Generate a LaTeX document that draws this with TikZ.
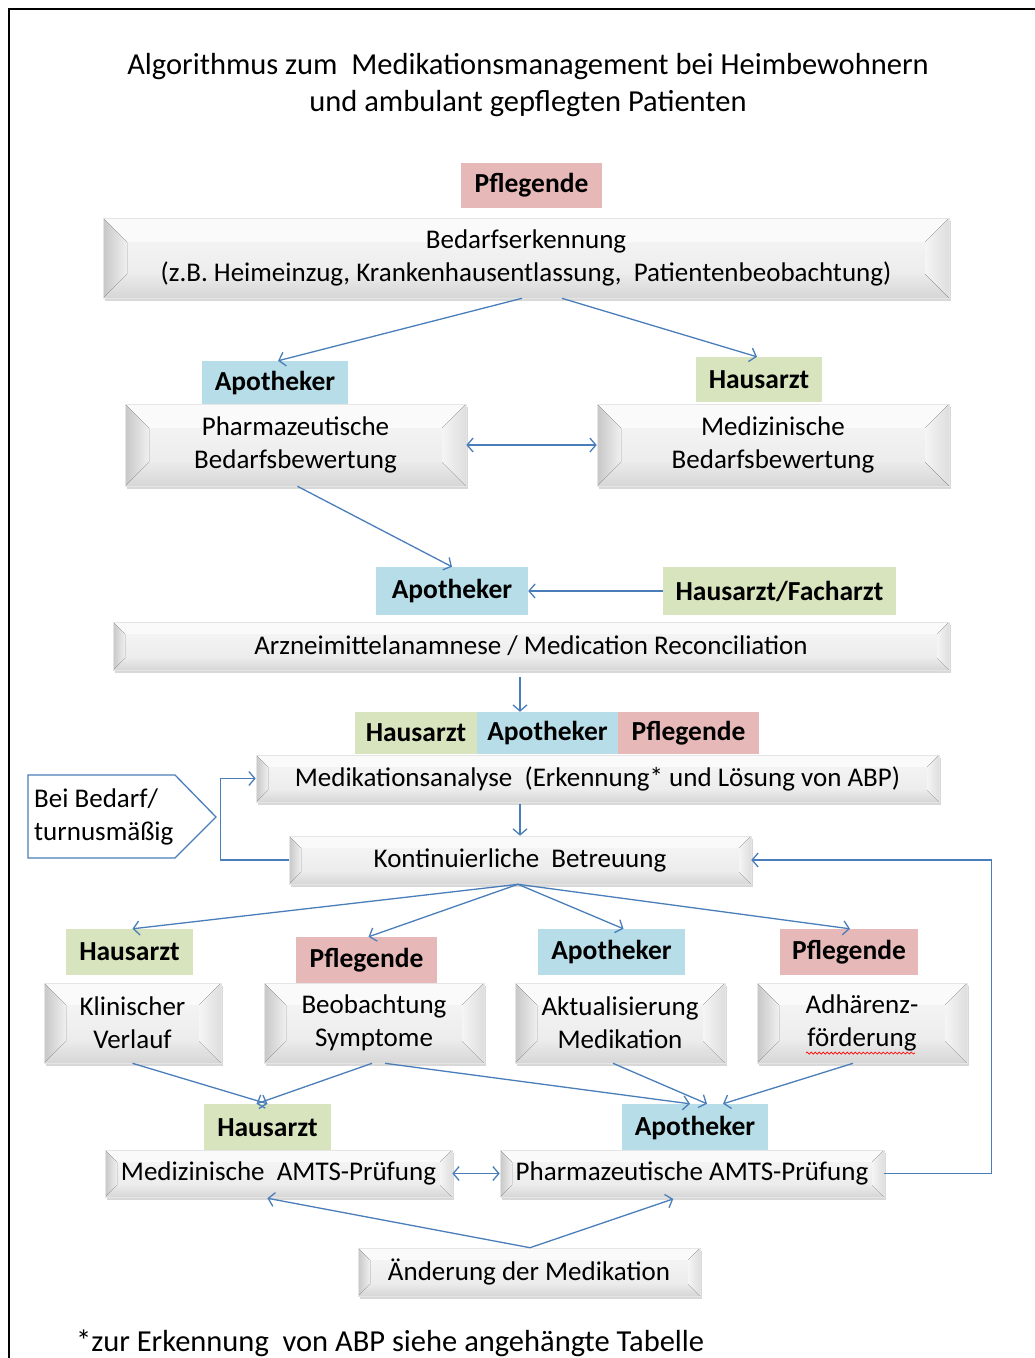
\documentclass[tikz,border=0pt]{standalone}
\usepackage{fontspec}
\setmainfont{Carlito}
\usetikzlibrary{calc,shadows,arrows.meta,decorations.pathmorphing}
\definecolor{arr}{HTML}{4A7EBB}
\definecolor{pinkc}{HTML}{E6B9B8}
\definecolor{bluec}{HTML}{B7DDE8}
\definecolor{greenc}{HTML}{D7E4BD}
\begin{document}
\begin{tikzpicture}[x=1pt,y=-1pt,
  lab/.style={inner sep=0pt, font=\bfseries\fontsize{27.5}{30}\selectfont},
  pk/.style={lab, fill=pinkc}, bl/.style={lab, fill=bluec}, gr/.style={lab, fill=greenc},
  bev/.style={inner sep=0pt, align=center, font=\fontsize{27}{33}\selectfont,
    draw=black!10, line width=0.6pt,
    drop shadow={opacity=0.3, shadow xshift=2pt, shadow yshift=-3pt},
    path picture={
      \def\bi{#1}
      \coordinate (pA) at (path picture bounding box.north west);
      \coordinate (pB) at (path picture bounding box.north east);
      \coordinate (pC) at (path picture bounding box.south east);
      \coordinate (pD) at (path picture bounding box.south west);
      \coordinate (ia) at ($(pA)+(\bi pt,-\bi pt)$);
      \coordinate (ib) at ($(pB)+(-\bi pt,-\bi pt)$);
      \coordinate (ic) at ($(pC)+(-\bi pt,\bi pt)$);
      \coordinate (id) at ($(pD)+(\bi pt,\bi pt)$);
      \fill[top color=black!3, bottom color=black!9] (pA) rectangle (pC);
      \fill[black!2] (pA)--(pB)--(ib)--(ia)--cycle;
      \fill[top color=black!8, bottom color=black!16] (pD)--(id)--(ic)--(pC)--cycle;
      \fill[left color=black!22, right color=black!6] (pA)--(ia)--(id)--(pD)--cycle;
      \fill[left color=black!4, right color=black!13] (pB)--(ib)--(ic)--(pC)--cycle;
    }},
  con/.style={draw=arr, line width=1.3pt, -{Straight Barb[length=6pt,width=14pt]}},
  dcon/.style={draw=arr, line width=1.3pt, {Straight Barb[length=6pt,width=14pt]}-{Straight Barb[length=6pt,width=14pt]}}
]
\useasboundingbox (0,0) rectangle (1034,1358);
\fill[white] (0,0) rectangle (1034,1358);
\draw[black, line width=2pt] (9,1360) -- (9,9) -- (1036,9);

% title
\node[font=\fontsize{30.5}{37}\selectfont, align=center] (title) at (528,85)
  {Algorithmus zum\ \ Medikationsmanagement bei Heimbewohnern\\und ambulant gepflegten Patienten};

% top
\node[pk, minimum width=141pt, minimum height=45pt] (pf0) at (531.5,185.5) {Pflegende};
\node[bev=24, minimum width=846pt, minimum height=80pt] (bed) at (526,258)
  {Bedarfserkennung\\(z.B. Heimeinzug, Krankenhausentlassung,\ \ Patientenbeobachtung)};

\node[bl, minimum width=146pt, minimum height=44pt] (apo1) at (275,383) {Apotheker};
\node[gr, minimum width=126pt, minimum height=45pt] (hau1) at (759,379.5) {Hausarzt};
\node[bev=24, minimum width=341pt, minimum height=82pt] (pha1) at (295.5,445) {Pharmazeutische\\Bedarfsbewertung};
\node[bev=24, minimum width=352pt, minimum height=82pt] (med1) at (773,445) {Medizinische\\Bedarfsbewertung};

\node[bl, minimum width=152pt, minimum height=48pt] (apo2) at (452,591) {Apotheker};
\node[gr, minimum width=233pt, minimum height=48pt] (hf) at (779.5,591) {Hausarzt/Facharzt};
\node[bev=12, minimum width=836pt, minimum height=48pt] (arz) at (531,646) {Arzneimittelanamnese / Medication Reconciliation};

\node[gr, minimum width=122pt, minimum height=42pt] (ha3) at (416,733) {Hausarzt};
\node[bl, minimum width=141pt, minimum height=42pt] (ap3) at (547.5,733) {Apotheker};
\node[pk, minimum width=141pt, minimum height=42pt] (pf3) at (688.5,733) {Pflegende};
\node[bev=12, minimum width=683pt, minimum height=47pt] (mana) at (597.5,778.5) {Medikationsanalyse\ \ (Erkennung* und Lösung von ABP)};
\node[bev=12, minimum width=462pt, minimum height=48pt] (kont) at (520,860) {Kontinuierliche\ \ Betreuung};

\draw[draw=arr, line width=1.3pt] (28,775) -- (175,775) -- (216,817) -- (175,858) -- (28,858) -- cycle;
\node[anchor=west, align=left, inner sep=0pt, font=\fontsize{27}{33}\selectfont] (bb) at (34,817) {Bei Bedarf/\\turnusmäßig};

% bottom rows
\node[gr, minimum width=127pt, minimum height=46pt] (hau4) at (129.5,952) {Hausarzt};
\node[pk, minimum width=141pt, minimum height=46pt] (pf4) at (366.5,960) {Pflegende};
\node[bl, minimum width=147pt, minimum height=46pt] (ap4) at (611.5,952) {Apotheker};
\node[pk, minimum width=138pt, minimum height=46pt] (pf5) at (849,952) {Pflegende};

\node[bev=22, minimum width=177pt, minimum height=80pt] (kv) at (132.5,1023) {Klinischer\\Verlauf};
\node[bev=22, minimum width=220pt, minimum height=80pt] (bs) at (374,1023) {Beobachtung\\Symptome};
\node[bev=22, minimum width=210pt, minimum height=80pt] (am) at (620,1023) {Aktualisierung\\Medikation};
\node[bev=22, minimum width=210pt, minimum height=80pt] (ad) at (862,1023) {Adhärenz-\\förderung};
\draw[red, line width=0.7pt, decorate, decoration={snake, amplitude=1pt, segment length=4pt}] (806,1053) -- (915,1053);

\node[gr, minimum width=127pt, minimum height=47pt] (hau6) at (267.5,1127.5) {Hausarzt};
\node[bl, minimum width=146pt, minimum height=47pt] (ap6) at (695,1127.5) {Apotheker};
\node[bev=12, minimum width=347pt, minimum height=47pt] (mamts) at (278.5,1173.5) {Medizinische\ \ AMTS-Prüfung};
\node[bev=12, minimum width=384pt, minimum height=47pt] (pamts) at (692,1173.5) {Pharmazeutische AMTS-Prüfung};

\node[bev=12, minimum width=342pt, minimum height=48pt] (aen) at (529,1272) {Änderung der Medikation};

\node[anchor=west, inner sep=0pt, font=\fontsize{30.5}{33}\selectfont] (foot) at (76,1343) {*zur Erkennung\ \ von ABP siehe angehängte Tabelle};

% connectors
\draw[con] ([xshift=-4pt]bed.south) -- ([xshift=3pt]apo1.north);
\draw[con] ([xshift=36pt]bed.south) -- ([xshift=-2pt]hau1.north);
\draw[dcon] (pha1.east) -- (med1.west);
\draw[con] ([xshift=2pt]pha1.south) -- (apo2.north);
\draw[con] (hf.west) -- (apo2.east);
\draw[con, shorten <=7pt] ([xshift=-11pt]arz.south) -- ([xshift=-27.5pt]ap3.north);
\draw[con, shorten <=2pt] (kont.north |- mana.south) -- (kont.north);
\draw[con] (kont.west) -- ++(-68,0) |- (mana.west);
\draw[con] (pamts.east) -- ++(107,0) |- (kont.east);

\draw[con] ([xshift=-2pt]kont.south) -- ([xshift=3pt]hau4.north);
\draw[con] ([xshift=-2pt]kont.south) -- ([xshift=2pt]pf4.north);
\draw[con] ([xshift=-2pt]kont.south) -- ([xshift=12pt]ap4.north);
\draw[con] ([xshift=-2pt]kont.south) -- ([xshift=1pt]pf5.north);

\draw[con] (kv.south) -- (hau6.north);
\draw[con] ([xshift=-2pt]bs.south) -- ([xshift=-11pt]hau6.north);
\draw[con] ([xshift=11pt]bs.south) -- ([xshift=-5pt]ap6.north);
\draw[con] ([xshift=-7pt]am.south) -- ([xshift=12pt]ap6.north);
\draw[con] ([xshift=-9pt]ad.south) -- ([xshift=28pt]ap6.north);
\draw[dcon] (mamts.east) -- (pamts.west);

\draw[con, shorten >=5pt] ([xshift=1pt]aen.north) -- ([xshift=-16pt]mamts.south);
\draw[con, shorten >=5pt] ([xshift=1pt]aen.north) -- ([xshift=-14pt]pamts.south);
\end{tikzpicture}
\end{document}
